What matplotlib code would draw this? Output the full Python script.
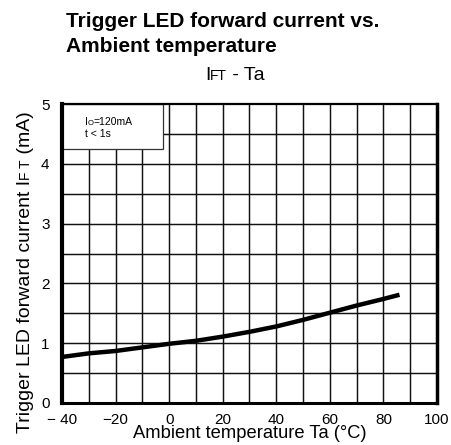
import numpy as np
import matplotlib
matplotlib.use("Agg")
import matplotlib.pyplot as plt
from matplotlib.patches import Rectangle

plt.rcParams['font.family'] = ['Liberation Sans', 'DejaVu Sans']

# curve
temps = [-40, -30, -20, -10, 0, 10, 20, 30, 40, 50, 60, 70, 80, 86]
ift = [0.77, 0.83, 0.87, 0.93, 0.99, 1.04, 1.11, 1.19, 1.28, 1.39, 1.51, 1.63, 1.74, 1.81]

xticks = [-40, -20, 0, 20, 40, 60, 80, 100]
xticklabels = ["\u2212 40", "\u221220", "0", "20", "40", "60", "80", "100"]
yticks = [0, 1, 2, 3, 4, 5]

W, H = 452, 445
fig = plt.figure(figsize=(W / 100, H / 100), dpi=100)
ax = fig.add_axes([62 / W, (H - 403) / H, (437 - 62) / W, (403 - 104) / H])

ax.set_xlim(-40, 100)
ax.set_ylim(0, 5)

# grid every 10 degC and every 0.5 mA
for x in np.arange(-30, 100, 10):
    ax.axvline(x, color='#111111', lw=1.05, zorder=1)
for y in np.arange(0.5, 5, 0.5):
    ax.axhline(y, color='#111111', lw=1.05, zorder=1)

ax.plot(temps, ift, color='black', lw=3.2, solid_capstyle='butt', zorder=3)

# condition box in the top left corner
ax.add_patch(Rectangle((-40, 4.25), 37.6, 0.75, facecolor='white',
                       edgecolor='#333333', lw=0.9, zorder=4))

ax.set_xticks(xticks)
ax.set_xticklabels(xticklabels)
ax.set_yticks(yticks)
ax.tick_params(length=0, labelsize=11, pad=7)
ax.tick_params(axis='y', pad=9)

ax.spines['left'].set_linewidth(3.0)
ax.spines['bottom'].set_linewidth(2.2)
ax.spines['right'].set_linewidth(2.5)
ax.spines['top'].set_linewidth(1.6)
for s in ax.spines.values():
    s.set_zorder(6)

ax.set_xlabel("Ambient temperature Ta (\u00b0C)", fontsize=13.2, labelpad=-1)

# titles
fig.text(66 / W, (H - 27) / H, "Trigger LED forward current vs.",
         fontsize=15, weight='bold', va='baseline')
fig.text(66 / W, (H - 52) / H, "Ambient temperature",
         fontsize=15, weight='bold', va='baseline')

renderer = fig.canvas.get_renderer()


def pieces(x0, y0, parts, rotation=0, z=7):
    # draws text pieces one after another along the baseline (pixel coords)
    x, y = x0, y0
    for s, size in parts:
        t = fig.text(x / W, (H - y) / H, s, fontsize=size, va='baseline',
                     ha='left', rotation=rotation, rotation_mode='anchor',
                     zorder=z)
        bb = t.get_window_extent(renderer)
        if rotation == 0:
            x += bb.width
        else:
            y -= bb.height


pieces(205, 80, [("I", 14), ("FT", 10), (" - Ta", 14)])
pieces(30, 433, [("Trigger LED forward current I", 14), ("F T", 10),
                 (" (mA)", 14)], rotation=90)

# test conditions inside the box
pieces(85, 125, [("I", 7.5), ("O", 5.5), ("=120mA", 7.5)])
pieces(85, 137, [("t < 1s", 7.5)])

fig.savefig("out.png", dpi=100)
